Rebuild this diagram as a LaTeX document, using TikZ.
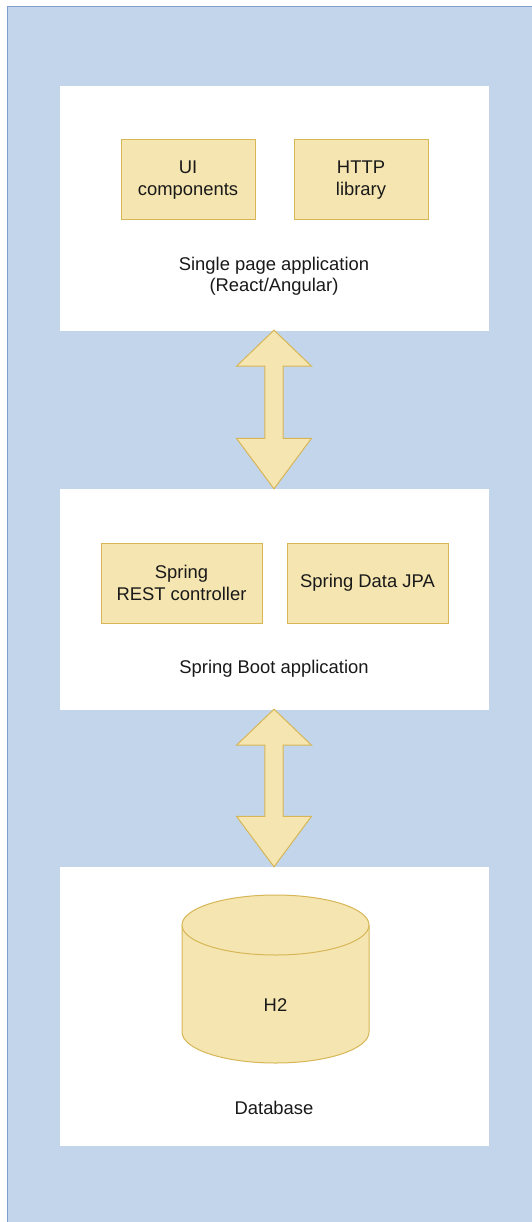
\documentclass[tikz,border=0pt]{standalone}
\usepackage{fontspec}
\setmainfont{Liberation Sans}
\definecolor{bgblue}{RGB}{195, 213, 235}
\definecolor{bgline}{RGB}{126, 158, 206}
\definecolor{compfill}{RGB}{245, 229, 177}
\definecolor{compline}{RGB}{214, 182, 86}
\usetikzlibrary{positioning, calc}

% block arrow with a head at both ends, from one layer to the next
\newcommand{\bidir}[2]{%
  \draw[blockarrow] (#1.south) -- ++(37.5,36) -- ++(-28.3,0)
    -- ($(#2.north)+(9.2,-50.5)$) -- ++(28.3,0) -- (#2.north)
    -- ++(-37.5,-50.5) -- ++(28.3,0)
    -- ($(#1.south)+(-9.2,36)$) -- ++(-28.3,0) -- cycle;}

\begin{document}
\begin{tikzpicture}[x=1pt, y=-1pt,
  every node/.style={font=\fontsize{18.4}{21.5}\selectfont, text=black!90},
  layer/.style={fill=white, draw=white, minimum width=428pt},
  comp/.style={fill=compfill, draw=compline, line width=1pt, minimum height=80pt, align=center},
  blockarrow/.style={fill=compfill, draw=compline, line width=1pt, line join=miter}]

  \useasboundingbox (0,0) rectangle (532,1222);
  \clip (0,0) rectangle (532,1222);
  \draw[fill=bgblue, draw=bgline, line width=1.8pt] (7.5,6.5) rectangle (560,1250);

  % layers
  \node[layer, minimum height=244pt] (spa) at (274,208) {};
  \node[layer, minimum height=220pt] (boot) at (274,599) {};
  \node[layer, minimum height=278pt] (db) at (274,1006) {};

  % single page application
  \node[comp, minimum width=134pt] (ui) at (188,180) {UI\\components};
  \node[comp, minimum width=134pt] (http) at (361,180) {HTTP\\library};
  \node[align=center] (spalabel) at (274,276) {Single page application\\(React/Angular)};

  % spring boot
  \node[comp, minimum width=161pt] (rest) at (181.5,583) {Spring\\REST controller};
  \node[comp, minimum width=161pt] (jpa) at (367.5,583) {Spring Data JPA};
  \node (bootlabel) at (274,669) {Spring Boot application};

  % database
  \filldraw[blockarrow] (182,925) -- (182,1032)
    arc[start angle=180, end angle=0, x radius=93.5, y radius=31]
    -- (369,925) arc[start angle=0, end angle=-180, x radius=93.5, y radius=30] -- cycle;
  \draw[blockarrow] (182,925) arc[start angle=180, end angle=0, x radius=93.5, y radius=30];
  \node (h2) at (275.5,1005) {H2};
  \node (dblabel) at (274,1108) {Database};

  \bidir{spa}{boot}
  \bidir{boot}{db}
\end{tikzpicture}
\end{document}
